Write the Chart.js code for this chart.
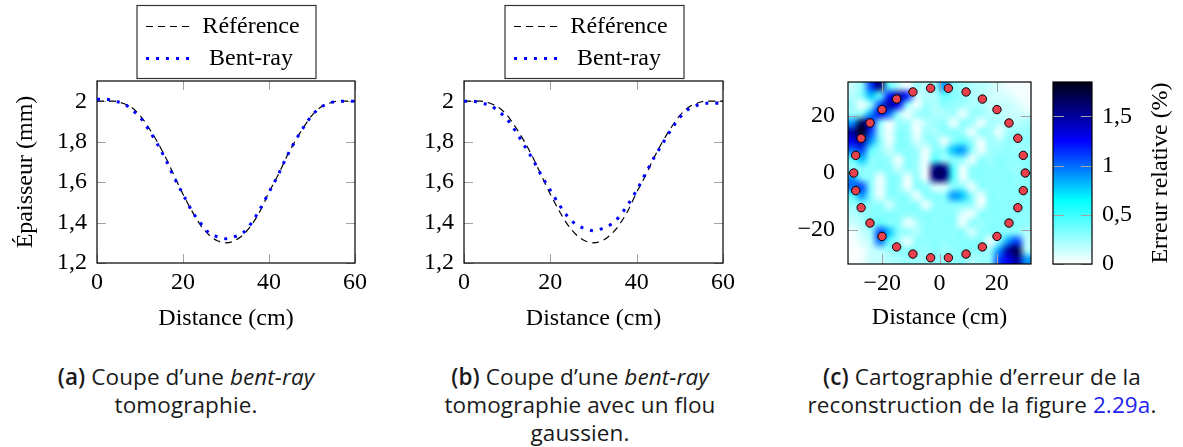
<!DOCTYPE html>
<html>
<head>
<meta charset="utf-8">
<script src="https://cdn.jsdelivr.net/npm/chart.js@4.4.1/dist/chart.umd.min.js"></script>
<style>
body { margin: 0; background: #fff; width: 1183px; height: 447px; position: relative; overflow: hidden; }
canvas { position: absolute; top: 0; }
.cap { position: absolute; top: 363px; width: 400px; font-family: 'Open Sans', sans-serif; font-size: 22.5px; letter-spacing: 0.1px; line-height: 28px; text-align: center; color: #1a1a1a; white-space: nowrap; }
.cap b { font-weight: 600; }
.cap .ref { color: #2222ee; }
</style>
</head>
<body>
<canvas id="cA" width="380" height="340" style="left:0"></canvas>
<canvas id="cB" width="370" height="340" style="left:380px"></canvas>
<canvas id="cC" width="290" height="340" style="left:760px"></canvas>
<canvas id="cD" width="133" height="340" style="left:1050px"></canvas>

<div class="cap" style="left:-14px"><b>(a)</b> Coupe d’une <i>bent-ray</i><br>tomographie.</div>
<div class="cap" style="left:380px"><b>(b)</b> Coupe d’une <i>bent-ray</i><br>tomographie avec un flou<br>gaussien.</div>
<div class="cap" style="left:782px"><b>(c)</b> Cartographie d’erreur de la<br>reconstruction de la figure <span class="ref">2.29a</span>.</div>

<script>
// profils (cm -> mm)
var distance = [0,2,4,6,8,10,12,14,16,18,20,22,24,26,28,30,32,34,36,38,40,42,44,46,48,50,52,54,56,58,60];
var refThickness = [2.0,2.0,2.0,1.99,1.97,1.93,1.87,1.80,1.72,1.63,1.54,1.46,1.39,1.34,1.31,1.30,1.31,1.34,1.39,1.46,1.55,1.63,1.72,1.80,1.87,1.93,1.97,1.99,2.0,2.0,2.0];
var bentA = [2.01,2.01,2.0,1.99,1.96,1.92,1.86,1.79,1.71,1.62,1.54,1.46,1.40,1.35,1.33,1.32,1.33,1.35,1.40,1.47,1.55,1.63,1.72,1.80,1.87,1.93,1.97,1.99,2.0,2.0,2.0];
var bentB = [2.0,2.0,1.99,1.98,1.95,1.91,1.85,1.78,1.71,1.63,1.56,1.49,1.43,1.39,1.37,1.36,1.37,1.39,1.43,1.49,1.56,1.64,1.72,1.79,1.86,1.92,1.96,1.98,1.99,1.99,1.99];
var legendLabels = ['Référence', 'Bent-ray'];
var distTicks = [0,20,40,60];
var thickTicks = [1.2,1.4,1.6,1.8,2];

// cartographie
var mapTicks = [-20,0,20];
var cbarTicks = [0,0.5,1,1.5];
var sensorX = [30,29.3,27.4,24.3,20.1,15,9.3,3.1,-3.1,-9.3,-15,-20.1,-24.3,-27.4,-29.3,-30,-29.3,-27.4,-24.3,-20.1,-15,-9.3,-3.1,3.1,9.3,15,20.1,24.3,27.4,29.3];
var sensorY = [0,6.2,12.2,17.6,22.3,26,28.5,29.8,29.8,28.5,26,22.3,17.6,12.2,6.2,0,-6.2,-12.2,-17.6,-22.3,-26,-28.5,-29.8,-29.8,-28.5,-26,-22.3,-17.6,-12.2,-6.2];
// erreur relative (%), lignes du haut (y=32) vers le bas, colonnes de x=-32 a 32
var errGrid = [
  [.14,.28,1.1,1.6,.4,.18,.02,.25,.18,.25, .9,.3,.25,.2,.18,.14,.1,.03,.03,.02],
  [.18,.3,.8,.4,1.2,1.5,1.2,.14,.2,.2, .4,.3,.28,.2,.18,.14,.1,.1,.03,.03],
  [.25,.02,.25,1.1,1.5,1.3,.3,.02,.25,.2, .3,.28,.25,.2,.23,.14,.14,.14,.1,.03],
  [.25,.3,.9,1.3,1.0,.25,.02,.25,.28,.2, .2,.25,.03,.25,.25,.18,.18,.14,.14,.1],
  [.9,1.7,1.3,.3,.02,.25,.25,.03,.18,.25, .28,.03,.28,.25,.03,.23,.2,.14,.18,.23],
  [1.5,1.85,1.1,.25,.03,.3,.28,.03,.25,.2, .3,.3,.25,.03,.28,.25,.03,.25,.25,.25],
  [1.3,1.5,.9,.3,.03,.3,.3,.1,.25,.3, .03,.3,.4,.28,.03,.25,.2,.28,.25,.28],
  [1.0,1.1,.4,.28,.14,.3,.3,.25,.03,.3, .3,.8,.9,.3,.03,.25,.25,.28,.25,.25],
  [.4,.8,.3,.3,.25,.03,.3,.25,.03,.45, .25,.3,.3,.03,.28,.25,.3,.28,.28,.3],
  [.25,.3,.28,.3,.3,.14,.28,.25,.03,1.6, 1.6,.45,.03,.28,.3,.28,.3,.28,.25,.3],
  [.9,.3,.28,.03,.3,.3,.03,.28,.03,1.6, 1.6,.45,.03,.28,.3,.3,.28,.3,.28,.3],
  [1.0,1.1,.3,.03,.3,.28,.03,.3,.3,.1, .1,.3,.3,.03,.3,.28,.3,.3,.28,.3],
  [.4,.9,.3,.03,.3,.3,.28,.03,.3,.3, .3,.9,.8,.3,.03,.3,.28,.3,.3,.3],
  [.25,.3,.28,.3,.1,.3,.3,.3,.03,.28, .3,.3,.3,.28,.03,.3,.3,.3,.28,.3],
  [.18,.25,.3,.3,.33,.3,.28,.3,.3,.3, .28,.3,.1,.03,.3,.3,.3,.3,.3,.28],
  [.14,.2,.3,.4,.3,.3,.03,.18,.3,.28, .3,.3,.03,.3,.25,.3,.3,.3,.3,.28],
  [.03,.14,.25,1.1,.8,.3,.28,.2,.3,.3, .3,.28,.3,.1,.28,.3,.3,.3,.3,.2],
  [.02,.1,.18,1.0,.4,.25,.03,.28,.28,.3, .28,.3,.3,.3,.3,.03,.3,.9,1.1,.18],
  [.01,.03,.14,.18,.25,.28,.3,.28,.25,.3, .25,.28,.3,.3,.28,.25,.9,1.5,1.7,.2],
  [.01,.03,.14,.14,.2,.23,.25,.25,.25,.28, .25,.28,.3,.2,.25,.28,1.1,1.3,1.5,.9]
];

var cmapStops = [[0,[255,255,255]],[0.65,[0,255,255]],[1.25,[0,0,255]],[1.85,[0,0,20]]];

function cmap(v){
    if(v <= cmapStops[0][0]) return cmapStops[0][1];
    for(var i = 1; i < cmapStops.length; i++){
        if(v <= cmapStops[i][0]){
            var a = cmapStops[i-1], b = cmapStops[i];
            var t = (v - a[0]) / (b[0] - a[0]);
            return [0,1,2].map(function(k){ return Math.round(a[1][k] + (b[1][k] - a[1][k]) * t); });
        }
    }
    return cmapStops[cmapStops.length-1][1];
}

var serif = "'Liberation Serif', 'Times New Roman', serif";
Chart.defaults.font.family = serif;
Chart.defaults.font.size = 24;
Chart.defaults.color = '#000';
Chart.defaults.animation = false;

function frFmt(v){
    return (v < 0 ? '\u2212' : '') + String(Math.abs(v)).replace('.', ',');
}
function fixTicks(list){
    return function(scale){ scale.ticks = list.map(function(v){ return {value: v}; }); };
}

function drawHeat(chart){
    var ctx = chart.ctx, xs = chart.scales.x, ys = chart.scales.y;
    var rows = errGrid.length, cols = errGrid[0].length;
    var off = document.createElement('canvas');
    off.width = cols; off.height = rows;
    var octx = off.getContext('2d');
    var img = octx.createImageData(cols, rows);
    for(var r = 0; r < rows; r++){
        for(var c = 0; c < cols; c++){
            var col = cmap(errGrid[r][c]), k = (r * cols + c) * 4;
            img.data[k] = col[0]; img.data[k+1] = col[1]; img.data[k+2] = col[2]; img.data[k+3] = 255;
        }
    }
    octx.putImageData(img, 0, 0);
    var x0 = xs.getPixelForValue(xs.min), x1 = xs.getPixelForValue(xs.max);
    var y0 = ys.getPixelForValue(ys.max), y1 = ys.getPixelForValue(ys.min);
    ctx.imageSmoothingEnabled = true;
    ctx.imageSmoothingQuality = 'high';
    ctx.drawImage(off, x0, y0, x1 - x0, y1 - y0);
}

function drawCbar(chart){
    var ctx = chart.ctx, a = chart.chartArea, ys = chart.scales.y;
    for(var py = Math.floor(a.top); py < a.bottom; py++){
        var col = cmap(ys.getValueForPixel(py + 0.5));
        ctx.fillStyle = 'rgb(' + col.join(',') + ')';
        ctx.fillRect(a.left, py, a.right - a.left, 1);
    }
}

// cadre, fond et petites graduations vers l'interieur
var framePlugin = {
    id: 'frame',
    beforeDatasetsDraw: function(chart, args, o){
        var ctx = chart.ctx, a = chart.chartArea, L = o.tick || 9;
        ctx.save();
        if(o.heat) drawHeat(chart);
        if(o.cbar) drawCbar(chart);
        ctx.strokeStyle = '#a3a3a3';
        ctx.lineWidth = 1;
        ctx.beginPath();
        var xs = chart.scales.x, ys = chart.scales.y;
        if(xs.options.display !== false){
            xs.ticks.forEach(function(t){
                var px = Math.round(xs.getPixelForValue(t.value)) + 0.5;
                ctx.moveTo(px, a.top); ctx.lineTo(px, a.top + L);
                ctx.moveTo(px, a.bottom); ctx.lineTo(px, a.bottom - L);
            });
        }
        ys.ticks.forEach(function(t){
            var py = Math.round(ys.getPixelForValue(t.value)) + 0.5;
            ctx.moveTo(a.left, py); ctx.lineTo(a.left + L, py);
            ctx.moveTo(a.right, py); ctx.lineTo(a.right - L, py);
        });
        ctx.stroke();
        ctx.strokeStyle = '#000';
        ctx.lineWidth = 1.2;
        ctx.strokeRect(a.left, a.top, a.right - a.left, a.bottom - a.top);
        if(o.sideTitle){
            ctx.translate(o.sideTitle.x, (a.top + a.bottom) / 2);
            ctx.rotate(-Math.PI / 2);
            ctx.fillStyle = '#000';
            ctx.font = '24px ' + serif;
            ctx.textAlign = 'center';
            ctx.textBaseline = 'middle';
            ctx.fillText(o.sideTitle.text, 0, 0);
        }
        ctx.restore();
    }
};

// legende encadree au-dessus du graphe
var boxLegend = {
    id: 'boxLegend',
    afterDraw: function(chart, args, o){
        if(!o.w) return;
        var ctx = chart.ctx;
        ctx.save();
        ctx.fillStyle = '#fff';
        ctx.fillRect(o.x, o.y, o.w, o.h);
        ctx.strokeStyle = '#333';
        ctx.lineWidth = 1.2;
        ctx.strokeRect(o.x, o.y, o.w, o.h);
        chart.data.datasets.forEach(function(ds, i){
            var cy = Math.round(o.y + 20 + i * 32) + 0.5;
            ctx.beginPath();
            ctx.setLineDash(ds.borderDash || []);
            ctx.lineWidth = ds.borderWidth;
            ctx.strokeStyle = ds.borderColor;
            ctx.moveTo(o.x + 9, cy);
            ctx.lineTo(o.x + 54, cy);
            ctx.stroke();
            ctx.setLineDash([]);
            ctx.fillStyle = '#000';
            ctx.font = '24px ' + serif;
            ctx.textAlign = 'center';
            ctx.textBaseline = 'middle';
            ctx.fillText(ds.label, o.x + 114, cy);
        });
        ctx.restore();
    }
};

function pts(xv, yv){
    return xv.map(function(x, i){ return {x: x, y: yv[i]}; });
}

function profileChart(id, bent, yWidth, padRight, legendX, withTitle){
    return new Chart(document.getElementById(id), {
        type: 'line',
        data: {
            datasets: [{
                label: legendLabels[0],
                data: pts(distance, refThickness),
                borderColor: '#000',
                borderWidth: 1.2,
                borderDash: [7, 5],
                pointRadius: 0,
                cubicInterpolationMode: 'monotone',
                order: 1
            }, {
                label: legendLabels[1],
                data: pts(distance, bent),
                borderColor: '#0000ff',
                borderWidth: 3,
                borderDash: [3, 7],
                pointRadius: 0,
                cubicInterpolationMode: 'monotone',
                order: 0
            }]
        },
        options: {
            responsive: false,
            layout: { padding: { left: 0, right: padRight, top: 81, bottom: 0 } },
            plugins: {
                legend: { display: false },
                tooltip: { enabled: false },
                frame: { tick: 9 },
                boxLegend: { x: legendX, y: 5.5, w: 179, h: 73 }
            },
            scales: {
                x: {
                    type: 'linear', min: 0, max: 60,
                    afterBuildTicks: fixTicks(distTicks),
                    afterFit: function(s){ s.height = 77; },
                    grid: { display: false, drawTicks: false },
                    border: { display: false },
                    ticks: { padding: 5, maxRotation: 0, autoSkip: false, callback: frFmt },
                    title: { display: true, text: 'Distance (cm)', padding: { top: 0, bottom: 7 } }
                },
                y: {
                    min: 1.2, max: 2.1,
                    afterBuildTicks: fixTicks(thickTicks),
                    afterFit: function(s){ s.width = yWidth; },
                    grid: { display: false, drawTicks: false },
                    border: { display: false },
                    ticks: { padding: 10, autoSkip: false, callback: frFmt },
                    title: { display: withTitle, text: 'Épaisseur (mm)', padding: { top: 11, bottom: 0 } }
                }
            }
        },
        plugins: [framePlugin, boxLegend]
    });
}

profileChart('cA', bentA, 97, 25, 137, true);
profileChart('cB', bentB, 84, 27, 125, false);

new Chart(document.getElementById('cC'), {
    type: 'scatter',
    data: {
        datasets: [{
            label: 'Capteurs',
            data: pts(sensorX, sensorY),
            pointRadius: 4.2,
            pointBackgroundColor: '#e8414d',
            pointBorderColor: '#000',
            pointBorderWidth: 1
        }]
    },
    options: {
        responsive: false,
        layout: { padding: { left: 0, right: 19, top: 82, bottom: 0 } },
        plugins: {
            legend: { display: false },
            tooltip: { enabled: false },
            frame: { heat: true, tick: 10 }
        },
        scales: {
            x: {
                type: 'linear', min: -32, max: 32,
                afterBuildTicks: fixTicks(mapTicks),
                afterFit: function(s){ s.height = 76; },
                grid: { display: false, drawTicks: false },
                border: { display: false },
                ticks: { padding: 5, maxRotation: 0, autoSkip: false, callback: frFmt },
                title: { display: true, text: 'Distance (cm)', padding: { top: 0, bottom: 8 } }
            },
            y: {
                min: -32, max: 32,
                afterBuildTicks: fixTicks(mapTicks),
                afterFit: function(s){ s.width = 88; },
                grid: { display: false, drawTicks: false },
                border: { display: false },
                ticks: { padding: 13, autoSkip: false, callback: frFmt }
            }
        }
    },
    plugins: [framePlugin]
});

new Chart(document.getElementById('cD'), {
    type: 'scatter',
    data: { datasets: [{ data: [] }] },
    options: {
        responsive: false,
        layout: { padding: { left: 3, right: 0, top: 82, bottom: 76 } },
        plugins: {
            legend: { display: false },
            tooltip: { enabled: false },
            frame: { cbar: true, tick: 11, sideTitle: { text: 'Erreur relative (%)', x: 111 } }
        },
        scales: {
            x: { display: false, min: 0, max: 1 },
            y: {
                position: 'right',
                min: 0, max: 1.85,
                afterBuildTicks: fixTicks(cbarTicks),
                afterFit: function(s){ s.width = 91; },
                grid: { display: false, drawTicks: false },
                border: { display: false },
                ticks: { padding: 10, autoSkip: false, callback: frFmt }
            }
        }
    },
    plugins: [framePlugin]
});
</script>
</body>
</html>
